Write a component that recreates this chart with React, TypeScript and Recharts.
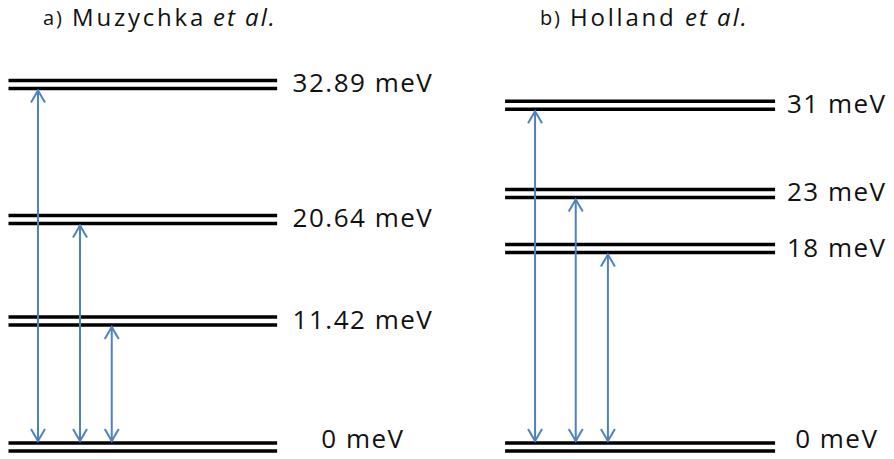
import { ComposedChart, XAxis, YAxis, ReferenceLine, Scatter } from 'recharts';

// energy levels (meV) and the transitions drawn from the ground state
const levelsA = [0, 11.42, 20.64, 32.89];
const levelLabelsA = ['0 meV', '11.42 meV', '20.64 meV', '32.89 meV'];
const transitionsA = [32.89, 20.64, 11.42];

const levelsB = [0, 18, 23, 31];
const levelLabelsB = ['0 meV', '18 meV', '23 meV', '31 meV'];
const transitionsB = [31, 23, 18];

const titlePrefixes = ['a)', 'b)'];
const titleNames = ['Muzychka', 'Holland'];
const titleSuffix = 'et al.';

const FONT = '"Open Sans", sans-serif';
const ARROW = '#4f81bd';

// layout only (x in 0..100 units across the chart width)
const panels = [
  {
    levels: levelsA,
    labels: levelLabelsA,
    transitions: transitionsA,
    from: 0.95,
    to: 31,
    labelAt: 40.6,
    arrowAt: [4.25, 8.95, 12.5],
    titleAt: [43, 72, 213],
  },
  {
    levels: levelsB,
    labels: levelLabelsB,
    transitions: transitionsB,
    from: 56.5,
    to: 86.7,
    labelAt: 93.6,
    arrowAt: [59.85, 64.4, 68],
    titleAt: [540, 570, 685],
  },
];

function levelShape(props: any) {
  const { x1, x2, y1 } = props;
  return (
    <g>
      <line x1={x1} x2={x2} y1={y1 - 4} y2={y1 - 4} stroke="#000" strokeWidth={3.5} />
      <line x1={x1} x2={x2} y1={y1 + 4} y2={y1 + 4} stroke="#000" strokeWidth={3.5} />
    </g>
  );
}

function labelShape(props: any) {
  const { cx, cy, payload } = props;
  // the ground-state label sits a little higher, as in the original figure
  const dy = payload.y === 0 ? 1 : 8;
  return (
    <text
      x={cx}
      y={cy + dy}
      textAnchor="middle"
      fontFamily={FONT}
      fontSize={26}
      letterSpacing={1.5}
      fill="#111"
    >
      {payload.label}
    </text>
  );
}

function arrowShape(props: any) {
  const { x1, y1, y2 } = props;
  const top = Math.min(y1, y2) + 6;
  const bottom = Math.max(y1, y2) - 6;
  return (
    <g stroke={ARROW} strokeWidth={2} fill="none">
      <line x1={x1} x2={x1} y1={top} y2={bottom} />
      <polyline points={`${x1 - 7},${top + 12} ${x1},${top} ${x1 + 7},${top + 12}`} />
      <polyline points={`${x1 - 7},${bottom - 12} ${x1},${bottom} ${x1 + 7},${bottom - 12}`} />
    </g>
  );
}

export default function App() {
  return (
    <div style={{ position: 'absolute', left: 0, top: 0, width: 894, height: 459, background: '#fff' }}>
      <ComposedChart width={894} height={459} margin={{ top: 6, right: 0, bottom: 12, left: 0 }}>
        <XAxis type="number" dataKey="x" domain={[0, 100]} hide />
        <YAxis type="number" dataKey="y" domain={[0, 40]} hide />
        {panels.map((p, i) =>
          p.levels.map((v, j) => (
            <ReferenceLine
              key={`l${i}-${j}`}
              segment={[{ x: p.from, y: v }, { x: p.to, y: v }]}
              ifOverflow="visible"
              shape={levelShape}
            />
          ))
        )}
        {panels.map((p, i) =>
          p.transitions.map((v, j) => (
            <ReferenceLine
              key={`t${i}-${j}`}
              segment={[{ x: p.arrowAt[j], y: 0 }, { x: p.arrowAt[j], y: v }]}
              ifOverflow="visible"
              shape={arrowShape}
            />
          ))
        )}
        {panels.map((p, i) => (
          <Scatter
            key={`s${i}`}
            data={p.levels.map((v, j) => ({ x: p.labelAt, y: v, label: p.labels[j] }))}
            shape={labelShape}
            isAnimationActive={false}
          />
        ))}
      </ComposedChart>
      {panels.map((p, i) => (
        <div key={i} style={{ fontFamily: FONT, color: '#111', whiteSpace: 'nowrap' }}>
          <span style={{ position: 'absolute', left: p.titleAt[0], top: 4, fontSize: 20, lineHeight: '28px', letterSpacing: 1.8 }}>
            {titlePrefixes[i]}
          </span>
          <span style={{ position: 'absolute', left: p.titleAt[1], top: 1, fontSize: 24, lineHeight: '32px', letterSpacing: 2.8 }}>
            {titleNames[i]}
          </span>
          <span style={{ position: 'absolute', left: p.titleAt[2], top: 1, fontSize: 24, lineHeight: '32px', letterSpacing: 2, fontStyle: 'italic' }}>
            {titleSuffix}
          </span>
        </div>
      ))}
    </div>
  );
}
